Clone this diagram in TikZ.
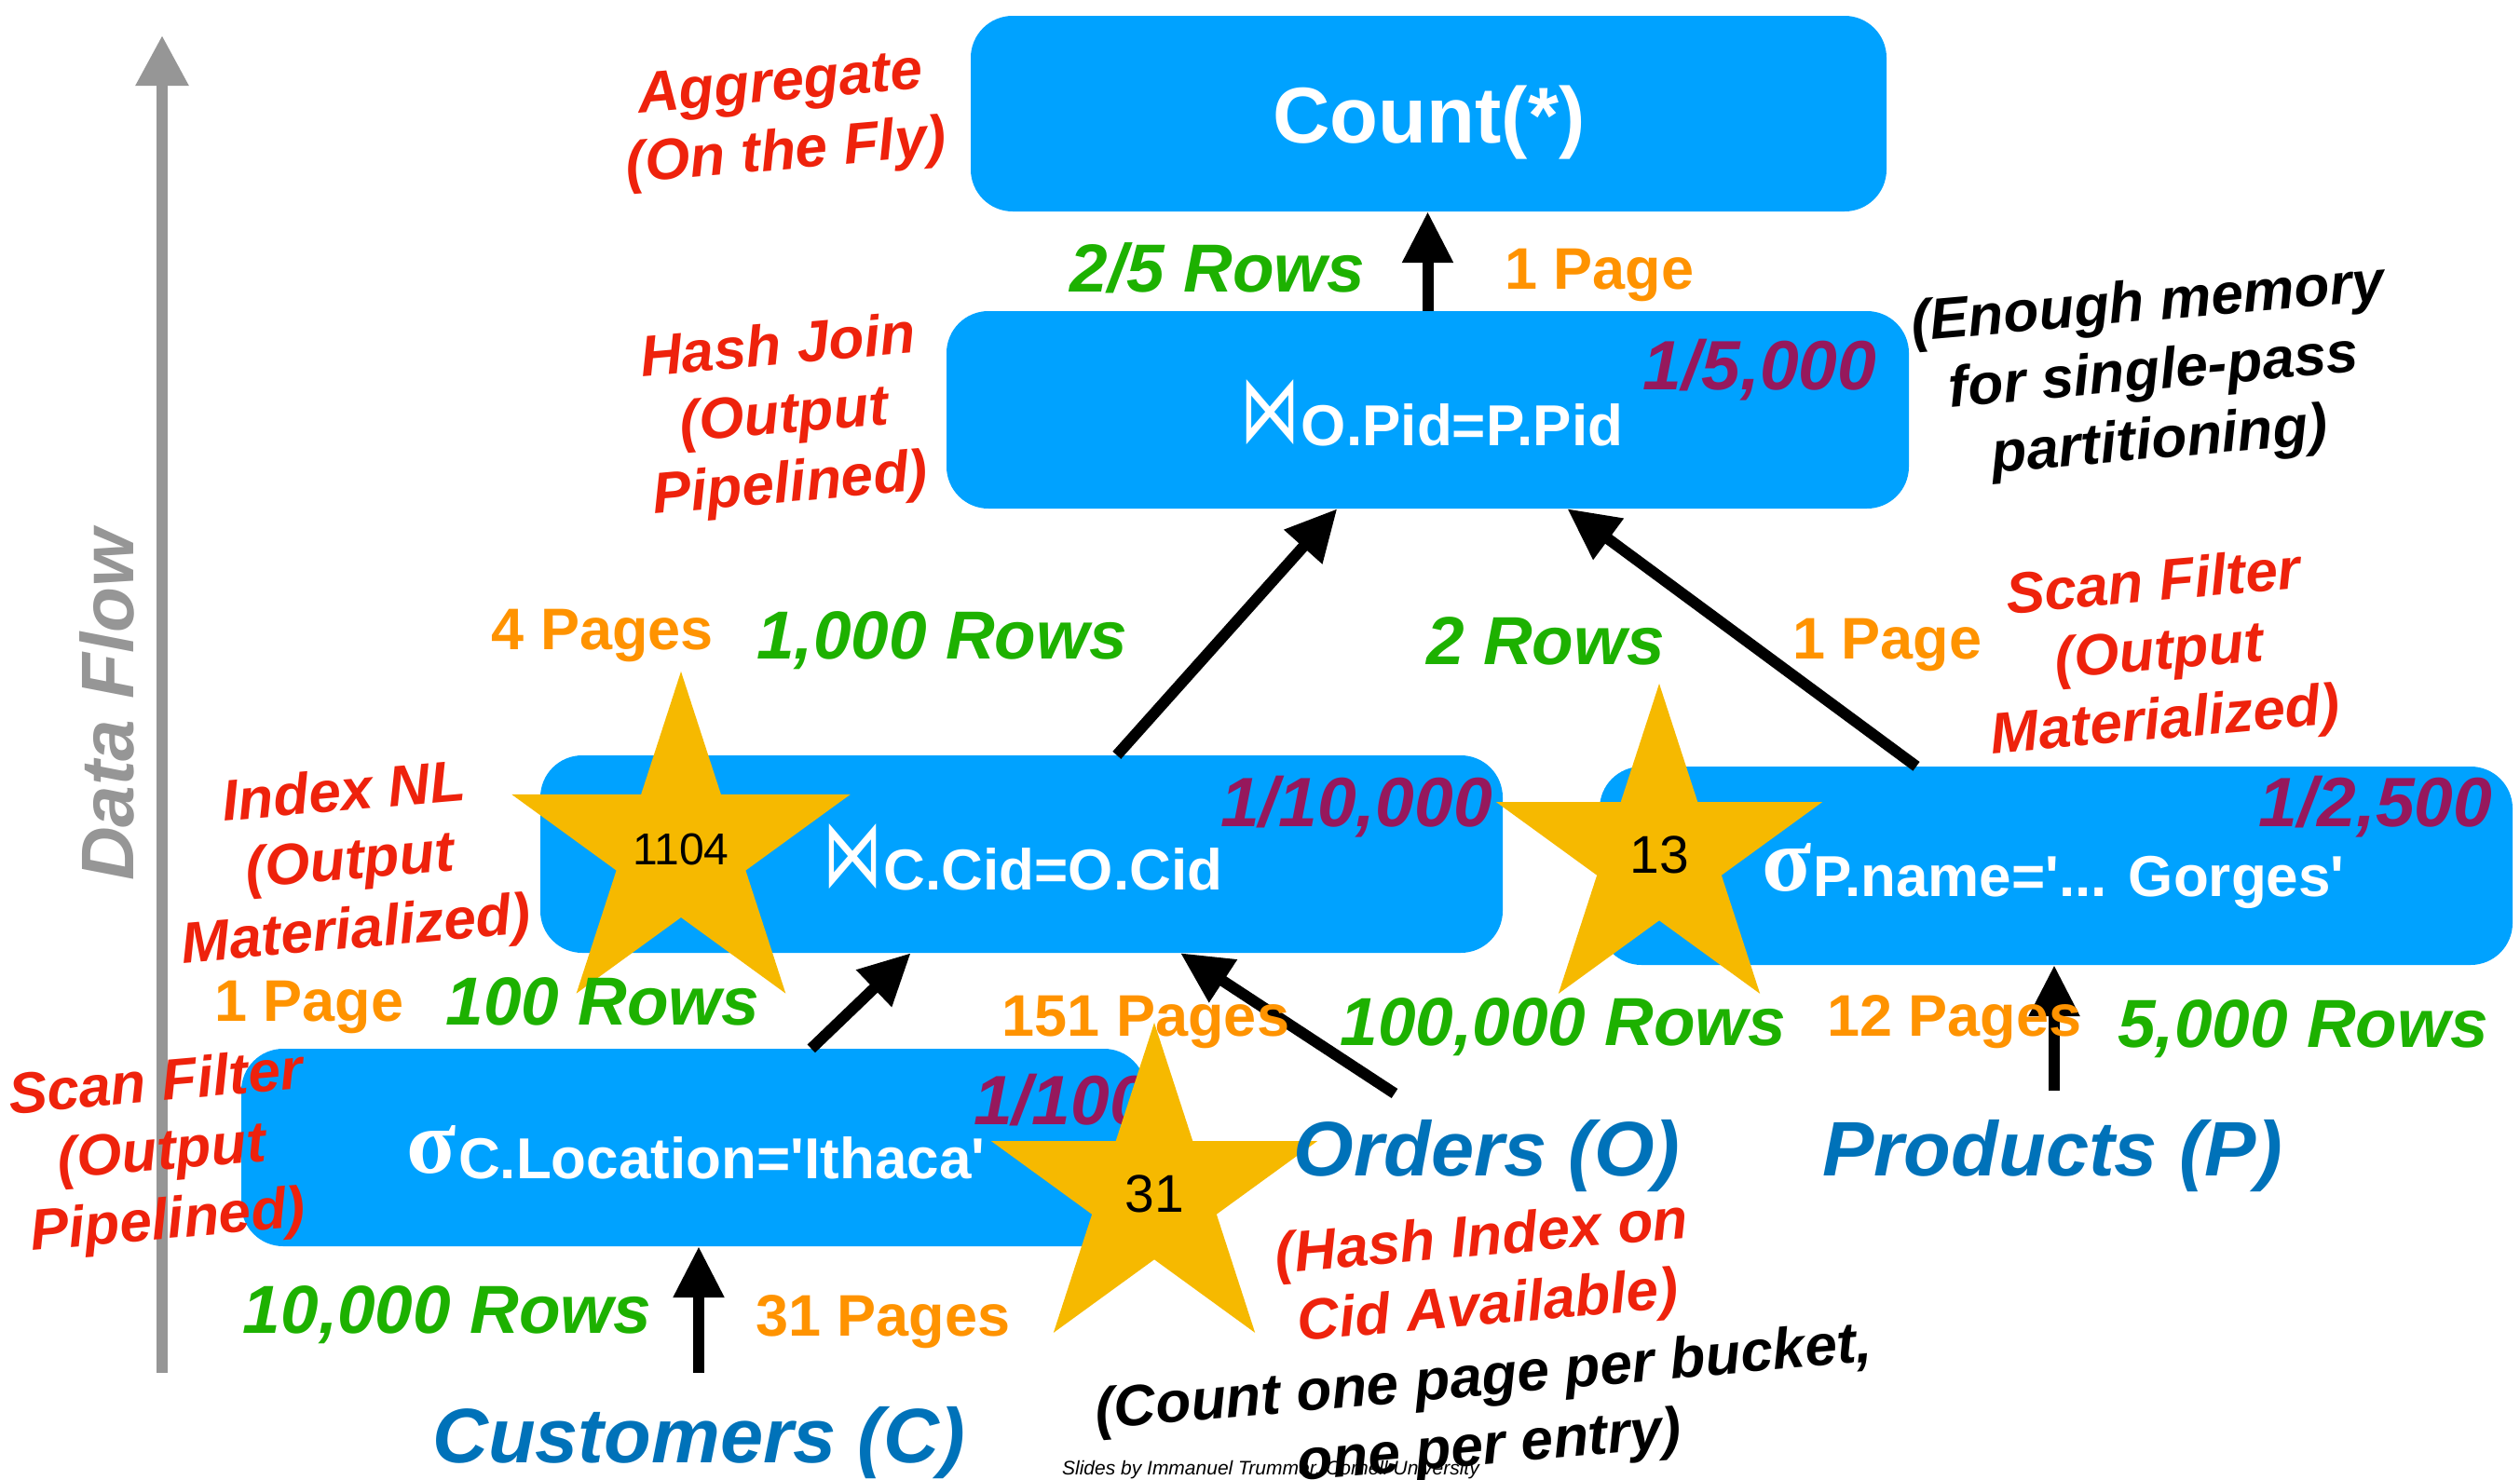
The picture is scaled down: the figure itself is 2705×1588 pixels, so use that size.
\documentclass[tikz,border=0pt]{standalone}
\usepackage{fontspec}
\setmainfont{Liberation Sans}
\newfontfamily\serifb{Liberation Serif}
\newfontfamily\djv{DejaVu Sans}
\usepackage{graphicx}
\usetikzlibrary{shapes.geometric,arrows.meta,calc}
\definecolor{boxblue}{RGB}{0,162,255}
\definecolor{annred}{RGB}{238,34,12}
\definecolor{rowgreen}{RGB}{29,177,0}
\definecolor{pageorange}{RGB}{255,147,0}
\definecolor{selpurple}{RGB}{150,24,92}
\definecolor{relblue}{RGB}{0,114,185}
\definecolor{stargold}{RGB}{246,185,0}
\definecolor{flowgray}{RGB}{150,150,150}
\newcommand\btie{\raisebox{4pt}{\resizebox*{64pt}{70pt}{\djv\mdseries\fontsize{62}{62}\selectfont ⋈}}}
\newcommand\sig{\raisebox{6pt}{\serifb\fontsize{98}{98}\selectfont σ}}
\begin{document}
\begin{tikzpicture}[x=1pt,y=-1pt,
  opbox/.style={fill=boxblue,draw=none,rounded corners=45pt,inner sep=0},
  optxt/.style={font=\fontsize{62}{70}\selectfont\bfseries,text=white,anchor=base,inner sep=0},
  rowlbl/.style={font=\fontsize{73}{80}\selectfont\bfseries\itshape,text=rowgreen,anchor=base,inner sep=0},
  pagelbl/.style={font=\fontsize{63}{70}\selectfont\bfseries,text=pageorange,anchor=base,inner sep=0},
  sellbl/.style={font=\fontsize{75}{80}\selectfont\bfseries\itshape,text=selpurple,anchor=base,inner sep=0},
  rellbl/.style={font=\fontsize{83}{90}\selectfont\bfseries\itshape,text=relblue,anchor=base,inner sep=0},
  annlbl/.style={font=\fontsize{62}{74}\selectfont\bfseries\itshape,text=annred,align=center,rotate=5,inner sep=0},
  starn/.style={star,star points=5,star point ratio=2.618,fill=stargold,draw=none,minimum size=368pt,inner sep=0,text=black},
  arr/.style={draw=black,line width=12pt,-{Triangle[length=55pt,width=52pt]}},
  flowarr/.style={draw=flowgray,line width=12pt,-{Triangle[length=54pt,width=54pt]}}
]
\useasboundingbox (0,0) rectangle (2705,1588);

% data flow arrow
\coordinate (flowbot) at (174,1474);
\coordinate (flowtop) at (174,38);
\draw[flowarr] (flowbot) -- (flowtop);
\node[font=\fontsize{80}{80}\selectfont\bfseries\itshape,text=flowgray,rotate=90,anchor=base,inner sep=0] (df) at (143,757) {Data Flow};

% operator boxes
\node[opbox,minimum width=983pt,minimum height=210pt] (cnt) at (1533.5,122) {};
\node[opbox,minimum width=1033pt,minimum height=212pt] (hj) at (1532.5,440) {};
\node[opbox,minimum width=1033pt,minimum height=212pt] (inl) at (1096.5,917) {};
\node[opbox,minimum width=980pt,minimum height=213pt] (pf) at (2207,929.5) {};
\node[opbox,minimum width=971pt,minimum height=212pt] (cf) at (744.5,1232) {};

% operator texts
\node[optxt,font=\fontsize{85}{90}\selectfont\bfseries] (t0) at (1534,153) {Count(*)};
\node[optxt] (t1) at (1537,478) {\btie\hspace{1pt}O.Pid=P.Pid};
\node[optxt] (t2) at (1098,955) {\btie\hspace{1pt}C.Cid=O.Cid};
\node[optxt] (t3) at (747,1265) {\sig\hspace{2pt}C.Location=\textquotesingle Ithaca\textquotesingle};
\node[optxt] (t4) at (2204,962) {\sig\hspace{2pt}P.name=\textquotesingle... Gorges\textquotesingle};

% selectivities
\node[sellbl] (s1) at (1889,418) {1/5,000};
\node[sellbl] (s2) at (1456,887) {1/10,000};
\node[sellbl] (s3) at (2550,887) {1/2,500};
\node[sellbl] (s4) at (1139,1207) {1/100};

% connectors
\coordinate (ordtail) at (1497,1174);
\coordinate (custtail) at (750,1474);
\coordinate (prodtail) at (2205,1171);
\draw[arr] (hj.north) -- (hj.north |- cnt.south);
\draw[arr] ($(inl.north west)!0.599!(inl.north east)$) -- ($(hj.south west)!0.406!(hj.south east)$);
\draw[arr] ($(pf.north west)!0.347!(pf.north east)$) -- ($(hj.south west)!0.645!(hj.south east)$);
\draw[arr] ($(cf.north west)!0.630!(cf.north east)$) -- ($(inl.south west)!0.385!(inl.south east)$);
\draw[arr] (ordtail) -- ($(inl.south west)!0.665!(inl.south east)$);
\draw[arr] (custtail) -- (custtail |- cf.south);
\draw[arr] (prodtail) -- (prodtail |- pf.south);

% stars
\node[starn,font=\fontsize{48}{48}\selectfont] (st1) at (731,912) {1104};
\node[starn,font=\fontsize{57}{57}\selectfont] (st2) at (1781,918) {13};
\node[starn,font=\fontsize{57}{57}\selectfont] (st3) at (1239,1282) {31};

% rows and pages
\node[rowlbl] (r25) at (1307,313) {2/5 Rows};
\node[pagelbl] (p1a) at (1717,310) {1 Page};
\node[pagelbl] (p4) at (647,697) {4 Pages};
\node[rowlbl] (r1000) at (1011,707) {1,000 Rows};
\node[rowlbl] (r2) at (1659,713) {2 Rows};
\node[pagelbl] (p1b) at (2026,707) {1 Page};
\node[pagelbl] (p1c) at (332,1096) {1 Page};
\node[rowlbl] (r100) at (647,1100) {100 Rows};
\node[pagelbl] (p151) at (1230,1112) {151 Pages};
\node[rowlbl] (r100k) at (1678,1122) {100,000 Rows};
\node[pagelbl] (p12) at (2098,1112) {12 Pages};
\node[rowlbl] (r5000) at (2472,1124) {5,000 Rows};
\node[rowlbl] (r10k) at (480,1431) {10,000 Rows};
\node[pagelbl] (p31) at (948,1434) {31 Pages};

% relations
\node[rellbl] (cust) at (750,1570) {Customers (C)};
\node[rellbl] (ord) at (1596,1262) {Orders (O)};
\node[rellbl] (prod) at (2203,1262) {Products (P)};

% annotations
\node[annlbl] (a1) at (841,130) {Aggregate\\(On the Fly)};
\node[annlbl] (a2) at (842,449) {Hash Join\\(Output\\Pipelined)};
\node[annlbl,text=black] (a3) at (2312,402) {(Enough memory\\for single-pass\\partitioning)};
\node[annlbl] (a4) at (2318,703) {Scan Filter\\(Output\\Materialized)};
\node[annlbl] (a5) at (376,928) {Index NL\\(Output\\Materialized)};
\node[annlbl] (a6) at (174,1240) {Scan Filter\\(Output\\Pipelined)};
\node[annlbl] (a7) at (1594,1369) {(Hash Index on\\Cid Available)};
\node[annlbl,text=black] (a8) at (1596,1519) {(Count one page per bucket,\\one per entry)};
\node[font=\fontsize{21}{24}\selectfont\itshape,anchor=base,inner sep=0] (credit) at (1364,1583) {Slides by Immanuel Trummer, Cornell University};
\end{tikzpicture}
\end{document}
